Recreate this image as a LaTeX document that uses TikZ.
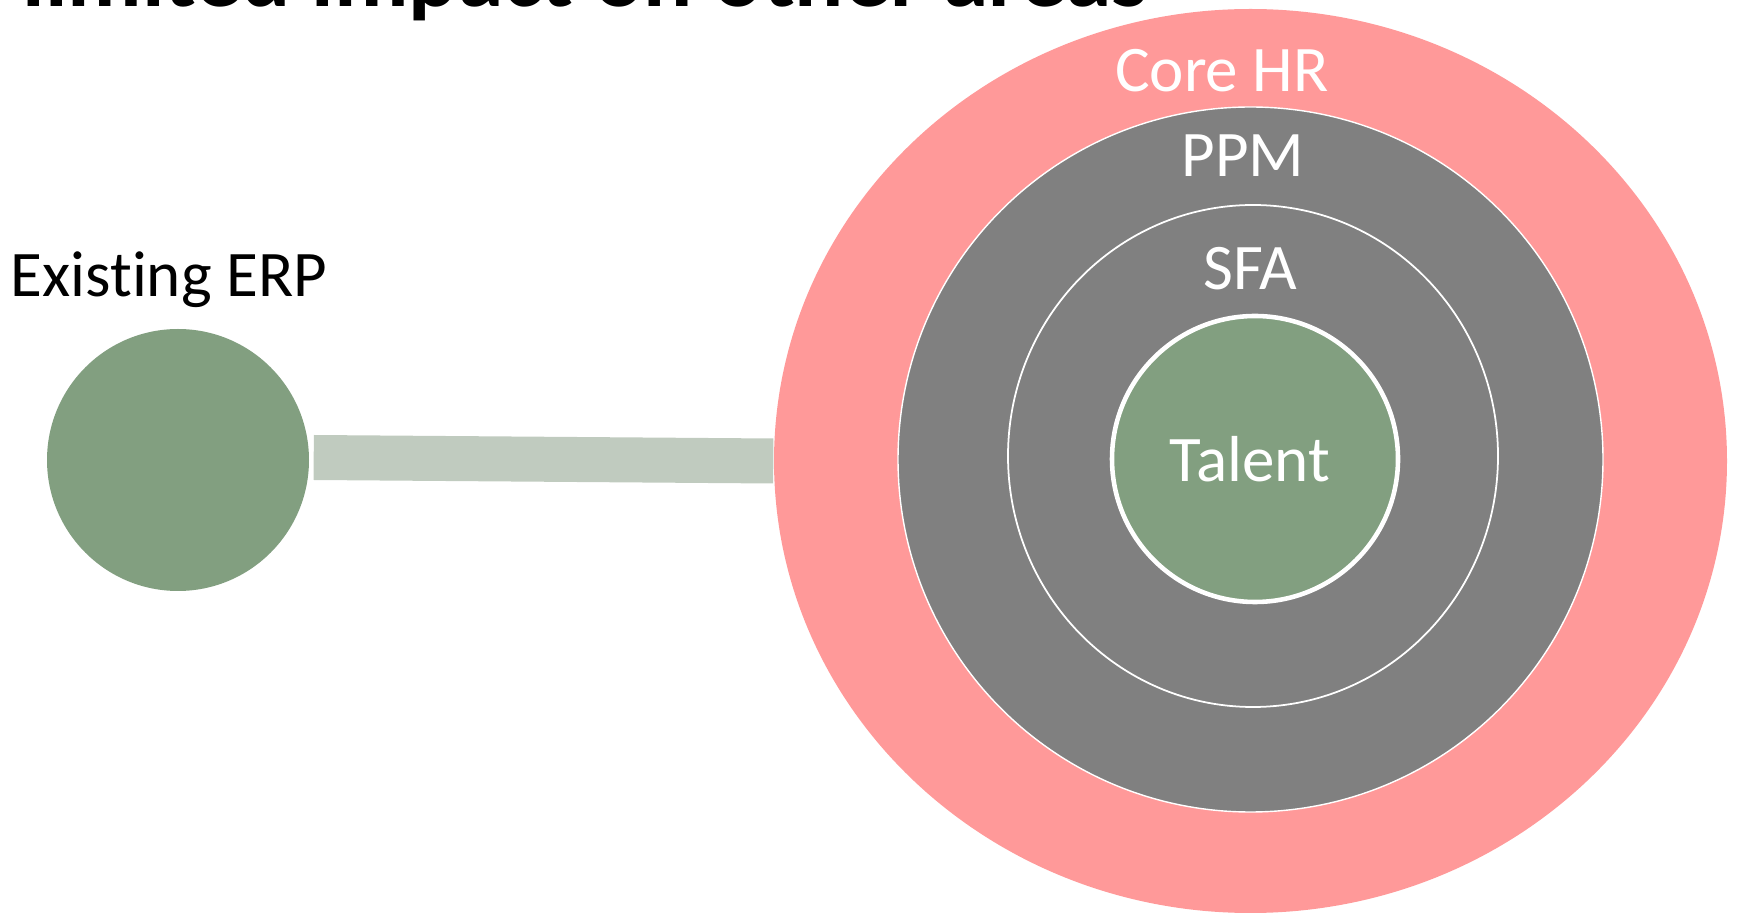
\documentclass[tikz,border=0pt]{standalone}
\usepackage{fontspec}
\setmainfont[RawFeature={-liga;-clig;-calt;-dlig}]{Carlito}
\usetikzlibrary{shapes.geometric}

\definecolor{erpgreen}{HTML}{829F80}
\definecolor{barsage}{HTML}{C0CBBF}
\definecolor{corepink}{HTML}{FF9999}
\definecolor{ppmgray}{HTML}{808080}

\begin{document}
\begin{tikzpicture}[x=0.1mm,y=-0.1mm,
    ring/.style={circle, draw=white, inner sep=0pt},
    lbl/.style={anchor=base, inner sep=0pt, text=white, font=\fontsize{18.5}{22}\selectfont}]
    \useasboundingbox (0,0) rectangle (1739,915);
    \clip (0,0) rectangle (1739,915);

    \node[anchor=base west, inner sep=0pt, font=\bfseries\fontsize{26.1}{30}\selectfont] (title) at (22,7) {limited impact on other areas};

    \node[ellipse, fill=corepink, inner sep=0pt, minimum width=9.53cm, minimum height=9.04cm] (core) at (1250.5,461) {};
    \node[ring, fill=ppmgray, line width=0.4pt, minimum size=7.05cm] (ppm) at (1250.5,459.5) {};
    \node[ellipse, draw=white, fill=ppmgray, inner sep=0pt, line width=0.5pt, minimum width=4.9cm, minimum height=5.02cm] (sfa) at (1253,456) {};
    \node[ring, fill=erpgreen, line width=1.3pt, minimum size=2.86cm] (talent) at (1255,459) {};

    \node[lbl] (corelbl) at (1222,92) {Core HR};
    \node[lbl] (ppmlbl) at (1243,177) {PPM};
    \node[lbl] (sfalbl) at (1250,290) {SFA};
    \node[lbl] (talentlbl) at (1250,482) {Talent};

    \node[circle, fill=erpgreen, inner sep=0pt, minimum size=2.62cm] (erp) at (178,460) {};
    \node[lbl, text=black] (erplbl) at (169,297) {Exist\kern0pt ing ERP};

    \draw[line width=4.5mm, barsage] ([shift={(4,-2.5)}]erp.east) -- (core.west);
\end{tikzpicture}
\end{document}
